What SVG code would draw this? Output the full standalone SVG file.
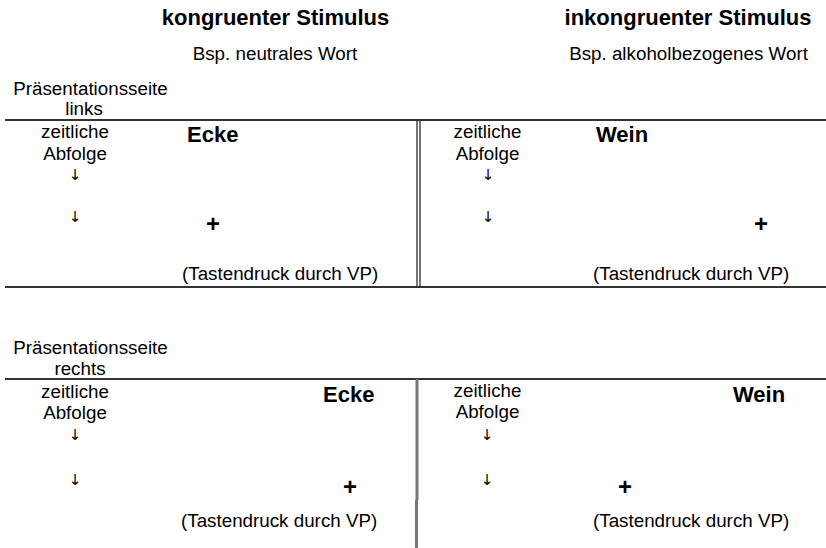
<svg xmlns="http://www.w3.org/2000/svg" width="826" height="548" viewBox="0 0 826 548">
<style>
text{font-family:"Liberation Sans",Arial,sans-serif;fill:#000}
.r{font-size:18.8px}
.b{font-size:22px;font-weight:bold}
.p{font-size:24px;font-weight:bold}
.a{font-family:"DejaVu Sans",sans-serif;font-size:15px;text-anchor:middle;fill:#000}
.m{text-anchor:middle}
.ln{stroke:#333;stroke-width:2;fill:none}
.vd{stroke:#2a2a2a;stroke-width:1.3;fill:none}
.vg{stroke:#777;stroke-width:3;fill:none}
</style>
<rect width="826" height="548" fill="#fff"/>
<g id="header">
<text class="b m" x="275.5" y="25">kongruenter Stimulus</text>
<text class="r m" x="275" y="60">Bsp. neutrales Wort</text>
<text class="b m" x="688" y="25">inkongruenter Stimulus</text>
<text class="r m" x="688.5" y="60">Bsp. alkoholbezogenes Wort</text>
</g>
<g id="lines">
<line class="ln" x1="5" y1="120" x2="826" y2="120"/>
<line class="ln" x1="5" y1="287" x2="826" y2="287"/>
<line class="vd" x1="417" y1="120" x2="417" y2="287"/>
<line class="vd" x1="420" y1="120" x2="420" y2="287"/>
<line class="ln" x1="5" y1="379" x2="826" y2="379"/>
<line class="vg" x1="417" y1="379" x2="417" y2="500"/>
<line class="vg" x1="416.5" y1="500" x2="416.5" y2="548"/>
</g>
<g id="row-links">
<text class="r m" x="90.5" y="95">Präsentationsseite</text>
<text class="r m" x="84" y="115">links</text>
</g>
<g id="panel-links-kongruent">
<text class="r m" x="75" y="138">zeitliche</text>
<text class="r m" x="75" y="160">Abfolge</text>
<text class="a" x="75" y="180">↓</text>
<text class="a" x="75" y="222">↓</text>
<text class="b" x="187" y="142">Ecke</text>
<text class="p m" x="213" y="232">+</text>
<text class="r" x="182" y="280">(Tastendruck durch VP)</text>
</g>
<g id="panel-links-inkongruent">
<text class="r m" x="487.5" y="138">zeitliche</text>
<text class="r m" x="487.5" y="160">Abfolge</text>
<text class="a" x="488" y="180">↓</text>
<text class="a" x="488" y="222">↓</text>
<text class="b" x="596" y="142">Wein</text>
<text class="p m" x="761" y="232">+</text>
<text class="r" x="593" y="280">(Tastendruck durch VP)</text>
</g>
<g id="row-rechts">
<text class="r m" x="90.5" y="354">Präsentationsseite</text>
<text class="r m" x="80" y="375">rechts</text>
</g>
<g id="panel-rechts-kongruent">
<text class="r m" x="75" y="398">zeitliche</text>
<text class="r m" x="75" y="419">Abfolge</text>
<text class="a" x="75" y="440">↓</text>
<text class="a" x="75" y="485">↓</text>
<text class="b" x="323" y="402">Ecke</text>
<text class="p m" x="350" y="495">+</text>
<text class="r" x="181" y="527">(Tastendruck durch VP)</text>
</g>
<g id="panel-rechts-inkongruent">
<text class="r m" x="487.5" y="397">zeitliche</text>
<text class="r m" x="487.5" y="418">Abfolge</text>
<text class="a" x="487" y="440">↓</text>
<text class="a" x="487" y="485">↓</text>
<text class="b" x="733" y="402">Wein</text>
<text class="p m" x="625" y="495">+</text>
<text class="r" x="593" y="527">(Tastendruck durch VP)</text>
</g>
</svg>
